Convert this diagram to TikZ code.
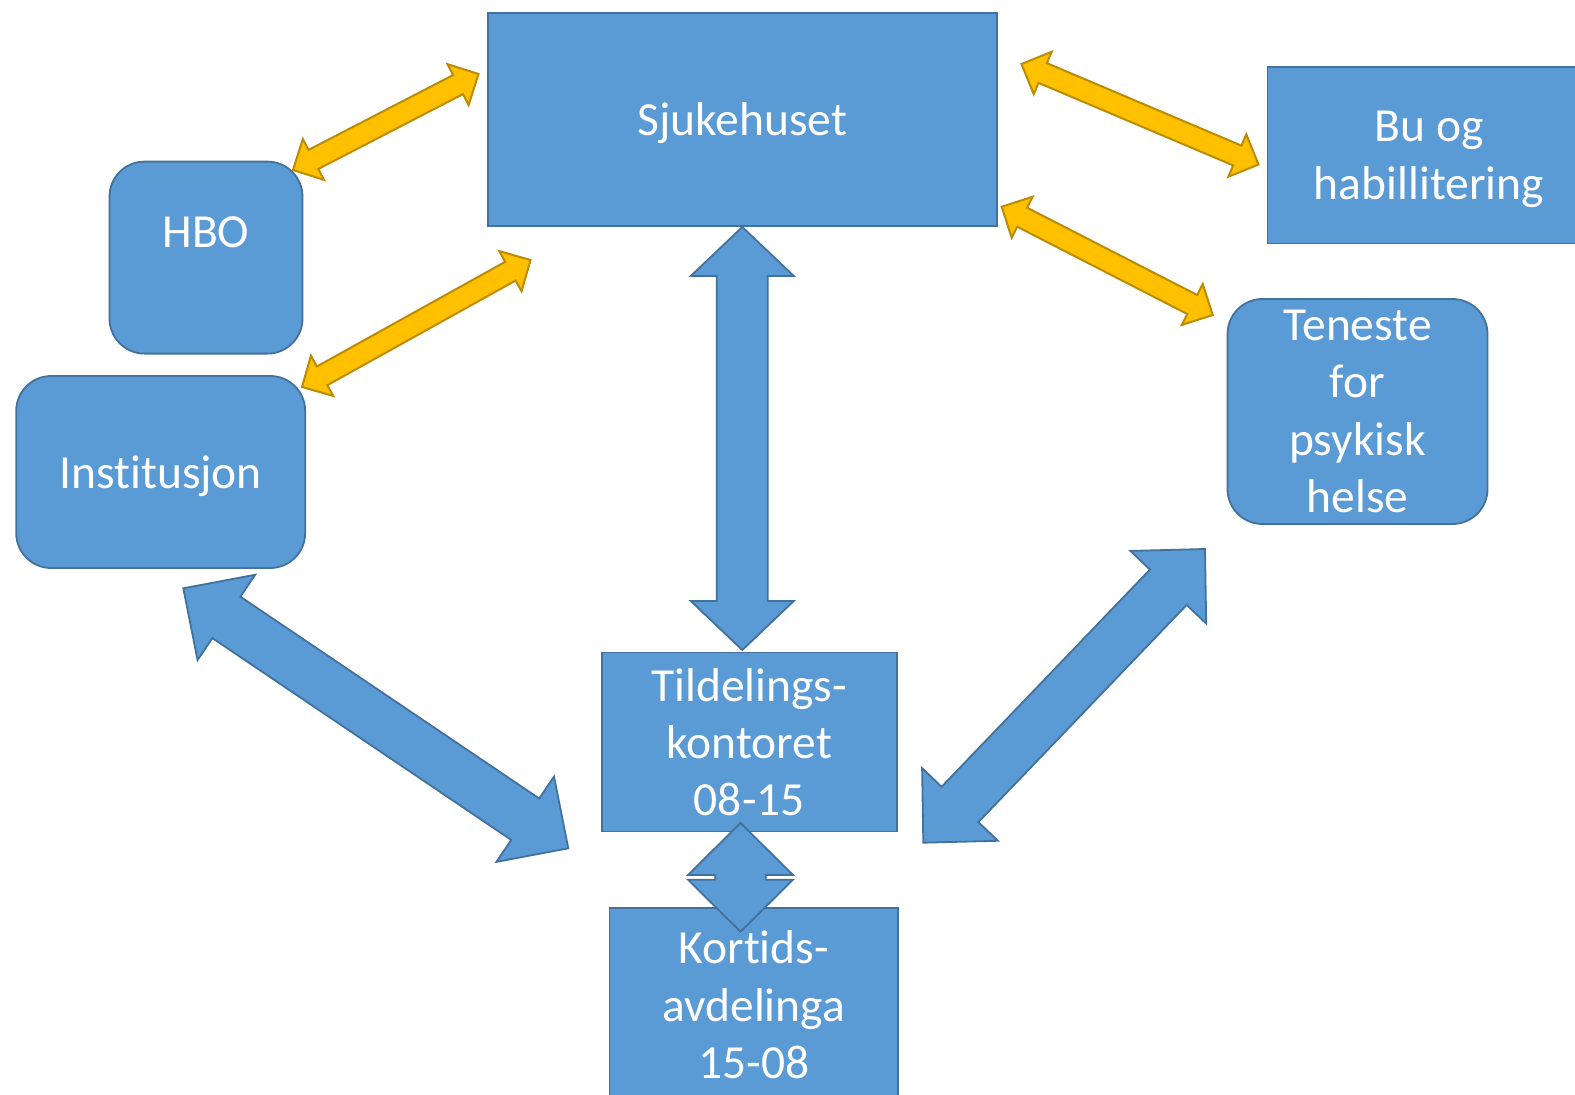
\documentclass[tikz,border=0pt]{standalone}
\usepackage{fontspec}
\setmainfont{Carlito}[Ligatures=NoCommon]
\usetikzlibrary{calc}
\definecolor{bfill}{HTML}{5B9BD5}
\definecolor{bline}{HTML}{41719C}
\definecolor{ofill}{HTML}{FFC000}
\definecolor{oline}{HTML}{BC8C00}
% #1 tip A, #2 tip B, #3 shaft half width, #4 head half width, #5 head length, #6 style
\newcommand\blockarrow[6]{%
 \path[#6] (#1)
 -- ($($(#1)!#5!(#2)$)!#4!90:(#2)$)
 -- ($($(#1)!#5!(#2)$)!#3!90:(#2)$)
 -- ($($(#2)!#5!(#1)$)!#3!-90:(#1)$)
 -- ($($(#2)!#5!(#1)$)!#4!-90:(#1)$)
 -- (#2)
 -- ($($(#2)!#5!(#1)$)!#4!90:(#1)$)
 -- ($($(#2)!#5!(#1)$)!#3!90:(#1)$)
 -- ($($(#1)!#5!(#2)$)!#3!-90:(#2)$)
 -- ($($(#1)!#5!(#2)$)!#4!-90:(#2)$)
 -- cycle;}
\begin{document}
\begin{tikzpicture}[x=1pt,y=-1pt,
  box/.style={draw=bline, fill=bfill, line width=1.8pt, inner sep=0pt, text=white,
    font=\fontsize{47.5}{57.5}\selectfont, align=center, text depth=0pt},
  rbox/.style={box, rounded corners=35pt},
  barrow/.style={draw=bline, fill=bfill, line width=1.8pt, line join=miter},
  oarrow/.style={draw=oline, fill=ofill, line width=2pt, line join=miter}]
\useasboundingbox[fill=white] (0,0) rectangle (1575,1095);
% boxes
\node[box, minimum width=509pt, minimum height=213pt] (sjuk) at (742.5,119.5) {Sjukehuset};
\node[box, minimum width=323pt, minimum height=176.7pt] (bu) at (1429,155.2) {Bu og\\habillitering};
\node[rbox, minimum width=193pt, minimum height=192pt] (hbo) at (206,257.6) {\raisebox{26pt}[\height][\depth]{HBO}};
\node[rbox, minimum width=289pt, minimum height=192pt] (inst) at (160.7,472) {Institusjon};
\node[rbox, minimum width=260pt, minimum height=225pt] (ten) at (1357.5,411.5) {Teneste\\for\\psykisk\\helse};
\node[box, minimum width=295pt, minimum height=179pt] (tild) at (749.3,742) {Tildelings-\\kontoret\\08-15};
\node[box, minimum width=288.5pt, minimum height=192.5pt] (kort) at (753.75,1004.5) {Kortids-\\avdelinga\\15-08};
% arrow tips
\coordinate (o1a) at (293,170); \coordinate (o1b) at (478.5,74);
\coordinate (o2a) at (302,387); \coordinate (o2b) at (530.5,260);
\coordinate (o3a) at (1021.5,64); \coordinate (o3b) at (1258.5,164.5);
\coordinate (o4a) at (1001.7,206.7); \coordinate (o4b) at (1212.7,315);
\coordinate (b1a) at (742.3,227); \coordinate (b1b) at (742.3,650);
\coordinate (b2a) at (740.5,823); \coordinate (b2b) at (740.5,931.7);
\coordinate (b3a) at (183.3,588.3); \coordinate (b3b) at (568.3,848.3);
\coordinate (b4a) at (1205,549); \coordinate (b4b) at (923.3,842.7);
% orange arrows
\blockarrow{o1a}{o1b}{10.7pt}{23pt}{23pt}{oarrow}
\blockarrow{o2a}{o2b}{10.7pt}{23pt}{23pt}{oarrow}
\blockarrow{o3a}{o3b}{10.7pt}{23pt}{23pt}{oarrow}
\blockarrow{o4a}{o4b}{10.7pt}{23pt}{23pt}{oarrow}
% blue arrows
\blockarrow{b1a}{b1b}{25.5pt}{51.5pt}{49pt}{barrow}
\blockarrow{b2a}{b2b}{25.3pt}{52.5pt}{52pt}{barrow}
\blockarrow{b3a}{b3b}{25pt}{51.5pt}{52pt}{barrow}
\blockarrow{b4a}{b4b}{25.5pt}{52.5pt}{53pt}{barrow}
\end{tikzpicture}
\end{document}
